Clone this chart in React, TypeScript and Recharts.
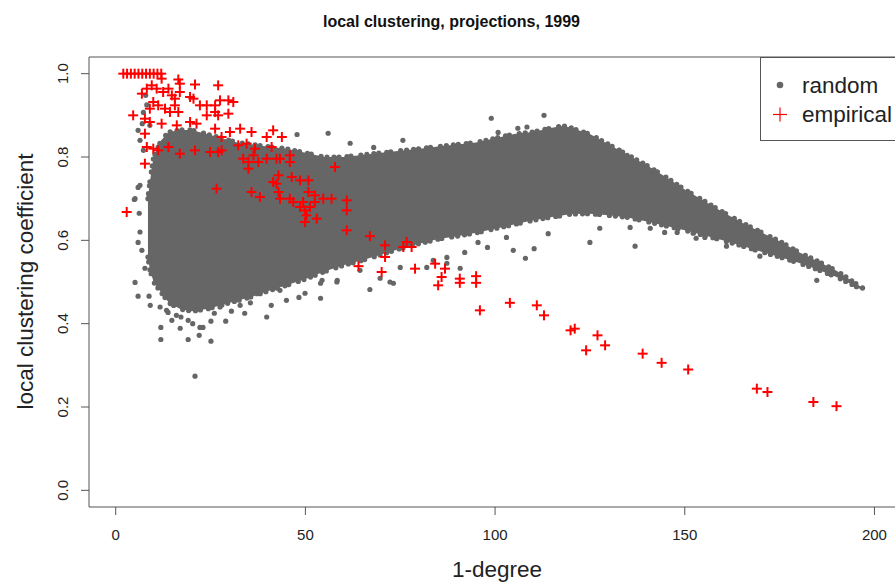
import React from 'react';
import { ComposedChart, Area, Scatter, XAxis, YAxis, ReferenceArea } from 'recharts';

// axis ticks
const xTicks = [0, 50, 100, 150, 200];
const yTicks = [0, 0.2, 0.4, 0.6, 0.8, 1.0];

const bandDegree = [8.5, 9, 10, 12, 14, 17, 20, 24, 28, 32, 36, 40, 45, 50, 55, 60, 65, 70, 75, 80, 85, 90, 95, 100, 105, 110, 115, 118, 120, 125, 130, 135, 140, 145, 150, 155, 160, 165, 170, 175, 180, 185, 190, 195, 197];
const bandLow = [0.56, 0.53, 0.5, 0.475, 0.45, 0.435, 0.43, 0.435, 0.445, 0.455, 0.465, 0.478, 0.492, 0.507, 0.525, 0.54, 0.552, 0.566, 0.58, 0.592, 0.603, 0.61, 0.618, 0.628, 0.638, 0.648, 0.656, 0.66, 0.663, 0.664, 0.66, 0.655, 0.645, 0.635, 0.624, 0.612, 0.6, 0.587, 0.573, 0.56, 0.546, 0.53, 0.512, 0.49, 0.479];
const bandHigh = [0.7, 0.74, 0.8, 0.84, 0.86, 0.865, 0.865, 0.855, 0.845, 0.835, 0.83, 0.825, 0.82, 0.81, 0.8, 0.8, 0.805, 0.81, 0.815, 0.82, 0.825, 0.83, 0.835, 0.845, 0.855, 0.86, 0.87, 0.875, 0.87, 0.855, 0.83, 0.805, 0.78, 0.752, 0.722, 0.695, 0.668, 0.643, 0.62, 0.598, 0.572, 0.55, 0.527, 0.497, 0.485];

// scattered "random" points outside the dense part
const randomStray: [number, number][] = [
  [5.1, 0.499], [5.9, 0.466], [9.1, 0.444], [11.9, 0.391], [11.9, 0.362], [17, 0.389], [19.1, 0.362], [20.9, 0.274],
  [22, 0.372], [14.8, 0.408], [25.1, 0.358], [25.1, 0.406], [29, 0.406], [34, 0.425], [39.8, 0.416], [41, 0.444],
  [45, 0.456], [48.3, 0.463], [49.9, 0.473], [54, 0.461], [54, 0.497], [58.4, 0.504], [4.9, 0.698], [6.2, 0.665],
  [5.9, 0.595], [6.4, 0.62], [6.9, 0.576], [7.7, 0.533], [6.4, 0.732], [8.8, 0.466], [11.7, 0.44], [13.8, 0.427],
  [17.2, 0.416], [20.3, 0.4], [22.2, 0.391], [13.4, 0.432], [19.1, 0.408], [23, 0.391], [27.5, 0.44], [32.8, 0.444],
  [37.2, 0.472], [43.3, 0.48], [16, 0.42], [26, 0.425], [30.5, 0.43], [35.5, 0.45],
  [7.9, 0.948], [7.3, 0.907], [7, 0.88], [5.9, 0.864], [6.4, 0.84], [7.3, 0.816], [5.9, 0.727], [5.1, 0.7],
  [8.2, 0.925], [9, 0.876],
  [75.7, 0.84], [99, 0.893], [112.9, 0.9], [100.8, 0.859], [106, 0.869], [108.4, 0.872], [134.8, 0.804], [145.6, 0.739],
  [47.8, 0.854], [56, 0.857], [61.8, 0.833], [68, 0.823],
  [39.8, 0.487], [54.4, 0.504], [58.3, 0.5], [64.4, 0.528], [67, 0.482], [69.7, 0.509], [72.3, 0.5], [75, 0.535],
  [82, 0.535], [83.7, 0.552], [87.3, 0.545], [73.2, 0.497], [104.8, 0.576], [108, 0.557], [110.3, 0.58], [125, 0.595],
  [136.9, 0.586], [161, 0.586], [169.8, 0.562], [184.8, 0.504], [90.8, 0.533], [114, 0.616], [103, 0.607], [98, 0.583],
  [95.5, 0.595], [92, 0.571], [87.3, 0.559], [127.6, 0.629], [135.6, 0.631], [148, 0.619], [152.2, 0.617], [140.9, 0.629],
  [144.7, 0.619], [153, 0.605], [155.3, 0.607],
];

// empirical projections
const empirical: [number, number][] = [
  [2, 1], [3, 1], [4, 1], [5, 1], [6, 1], [7, 1], [8, 1], [9, 1], [10, 1], [11, 1], [12, 1],
  [12.1, 0.988], [16.5, 0.986], [16.9, 0.976], [20.9, 0.974], [27, 0.972], [9.5, 0.972], [8.2, 0.964], [6.9, 0.952],
  [10.8, 0.964], [12.5, 0.956], [13.9, 0.964], [14.8, 0.948], [15.6, 0.94], [16.9, 0.956], [19.6, 0.944], [20.5, 0.94],
  [22.2, 0.924], [24, 0.924], [26.2, 0.924], [27.5, 0.936], [29.7, 0.936], [31, 0.932], [9.9, 0.932], [9, 0.916],
  [11.2, 0.924], [13, 0.916], [15.6, 0.924], [14.3, 0.908], [16.5, 0.908], [19.6, 0.884], [21.3, 0.88], [24, 0.9],
  [26.2, 0.908], [27, 0.9], [29.7, 0.904], [4.6, 0.9], [7.7, 0.892], [9, 0.884], [12.1, 0.88], [16.1, 0.876],
  [26.2, 0.868], [27.9, 0.848], [30.1, 0.86], [32.8, 0.868], [35.8, 0.86], [39.8, 0.848], [41.5, 0.864], [43.8, 0.848],
  [7.7, 0.856], [8.2, 0.824], [9.9, 0.82], [11.2, 0.816], [13.9, 0.824], [16.9, 0.808], [20.9, 0.816], [24.9, 0.812],
  [27.9, 0.816], [32.3, 0.828], [34.5, 0.832], [36.7, 0.82], [41.1, 0.824], [7.7, 0.784], [33.6, 0.796], [36.3, 0.804],
  [37.6, 0.788], [39.8, 0.796], [42.4, 0.796], [45.9, 0.804], [35, 0.772], [26.6, 0.724], [35.8, 0.716], [38, 0.704],
  [41.5, 0.74], [42.9, 0.716], [43.3, 0.7], [46.4, 0.752], [48.6, 0.744], [50.8, 0.744], [45.9, 0.7], [49.4, 0.692],
  [51.2, 0.68], [2.9, 0.668], [42.9, 0.756], [42.4, 0.736], [46.8, 0.692], [48.6, 0.68], [49.9, 0.672], [50.8, 0.716],
  [52.5, 0.708], [52.5, 0.692], [50.3, 0.66], [53, 0.652], [49.9, 0.644], [54.7, 0.7], [56.9, 0.7], [57.8, 0.776],
  [60.9, 0.696], [60.9, 0.672], [60.9, 0.624], [67, 0.61], [71, 0.588], [71, 0.56], [76.7, 0.596], [75.8, 0.584],
  [78, 0.584], [64, 0.538], [70.1, 0.524], [78.9, 0.532], [84.2, 0.544], [86.8, 0.532], [85.9, 0.512], [85, 0.492],
  [90.7, 0.508], [90.7, 0.498], [95, 0.514], [95, 0.498], [96, 0.432], [103.9, 0.45], [111, 0.444], [112.9, 0.42],
  [119.9, 0.384], [121, 0.388], [127, 0.372], [129, 0.348], [124, 0.336], [138.9, 0.328], [143.9, 0.306], [150.9, 0.29],
  [169, 0.244], [171.8, 0.236], [183.9, 0.212], [190, 0.202],
  [27, 0.812], [35, 0.788], [43.3, 0.796], [45.9, 0.788],
];

const bandData = bandDegree.map((x, i) => ({ x, range: [bandLow[i], bandHigh[i]] }));
const strayData = randomStray.map(([x, y]) => ({ x, y }));
const empiricalData = empirical.map(([x, y]) => ({ x, y }));

const FONT = '"Liberation Sans", Arial, Helvetica, sans-serif';
const GREY = '#666666';
const RED = '#ff0000';
const INK = '#222222';
const AXIS = '#555555';

function GreyDot(props: any) {
  const { cx, cy } = props;
  return <circle cx={cx} cy={cy} r={2.6} fill={GREY} />;
}

function RedPlus(props: any) {
  const { cx, cy } = props;
  return (
    <g stroke={RED} strokeWidth={2}>
      <line x1={cx - 5} y1={cy} x2={cx + 5} y2={cy} />
      <line x1={cx} y1={cy - 5} x2={cx} y2={cy + 5} />
    </g>
  );
}

function XTick(props: any) {
  const { x, payload } = props;
  return (
    <text x={x} y={540} textAnchor="middle" fontSize={15} fill={INK} fontFamily={FONT}>
      {payload.value}
    </text>
  );
}

function YTick(props: any) {
  const { y, payload } = props;
  return (
    <text x={68} y={y} transform={`rotate(-90 68 ${y})`} textAnchor="middle" fontSize={15} fill={INK} fontFamily={FONT}>
      {Number(payload.value).toFixed(1)}
    </text>
  );
}

export default function App() {
  return (
    <div style={{ position: 'fixed', left: 0, top: 0, width: 895, height: 584, overflow: 'hidden', background: '#fff' }}>
      <ComposedChart width={930} height={584} data={bandData} margin={{ top: 57, right: 18, bottom: 0, left: 0 }}>
        <XAxis
          dataKey="x"
          type="number"
          domain={[-7.04, 209.9]}
          ticks={xTicks}
          allowDataOverflow
          height={77}
          axisLine={false}
          tickLine={{ stroke: AXIS }}
          tickSize={8}
          tick={<XTick />}
          interval={0}
        />
        <YAxis
          type="number"
          domain={[-0.04, 1.04]}
          ticks={yTicks}
          allowDataOverflow
          width={89}
          axisLine={false}
          tickLine={{ stroke: AXIS }}
          tickSize={8}
          tick={<YTick />}
          interval={0}
        />
        <Area
          dataKey="range"
          type="linear"
          fill={GREY}
          fillOpacity={1}
          stroke={GREY}
          strokeWidth={5.2}
          strokeLinecap="round"
          strokeDasharray="0 5 0 8 0 4 0 10 0 6 0 7"
          isAnimationActive={false}
          dot={false}
          activeDot={false}
        />
        <Scatter data={strayData} dataKey="y" shape={<GreyDot />} isAnimationActive={false} />
        <Scatter data={empiricalData} dataKey="y" shape={<RedPlus />} isAnimationActive={false} />
        <ReferenceArea x1={-7.04} x2={209.9} y1={-0.04} y2={1.04} fill="none" stroke={AXIS} strokeWidth={1} ifOverflow="visible" />
      </ComposedChart>
      <svg width={895} height={584} style={{ position: 'absolute', left: 0, top: 0, pointerEvents: 'none' }} fontFamily={FONT}>
        <text x={451.5} y={26.5} textAnchor="middle" fontSize={16} fontWeight="bold" fill="#111">
          local clustering, projections, 1999
        </text>
        <text x={497} y={577} textAnchor="middle" fontSize={22.5} fill={INK}>
          1-degree
        </text>
        <text x={33} y={281.5} transform="rotate(-90 33 281.5)" textAnchor="middle" fontSize={22.5} fill={INK}>
          local clustering coefficient
        </text>
        <rect x={760.5} y={57.5} width={200} height={83} fill="#fff" stroke={AXIS} />
        <circle cx={780} cy={85} r={3.3} fill={GREY} />
        <text x={802} y={93} fontSize={22.5} fill={INK}>random</text>
        <g stroke={RED} strokeWidth={1.2}>
          <line x1={773} y1={114.5} x2={787} y2={114.5} />
          <line x1={780} y1={107.5} x2={780} y2={121.5} />
        </g>
        <text x={802} y={122} fontSize={22.5} fill={INK}>empirical</text>
      </svg>
    </div>
  );
}
